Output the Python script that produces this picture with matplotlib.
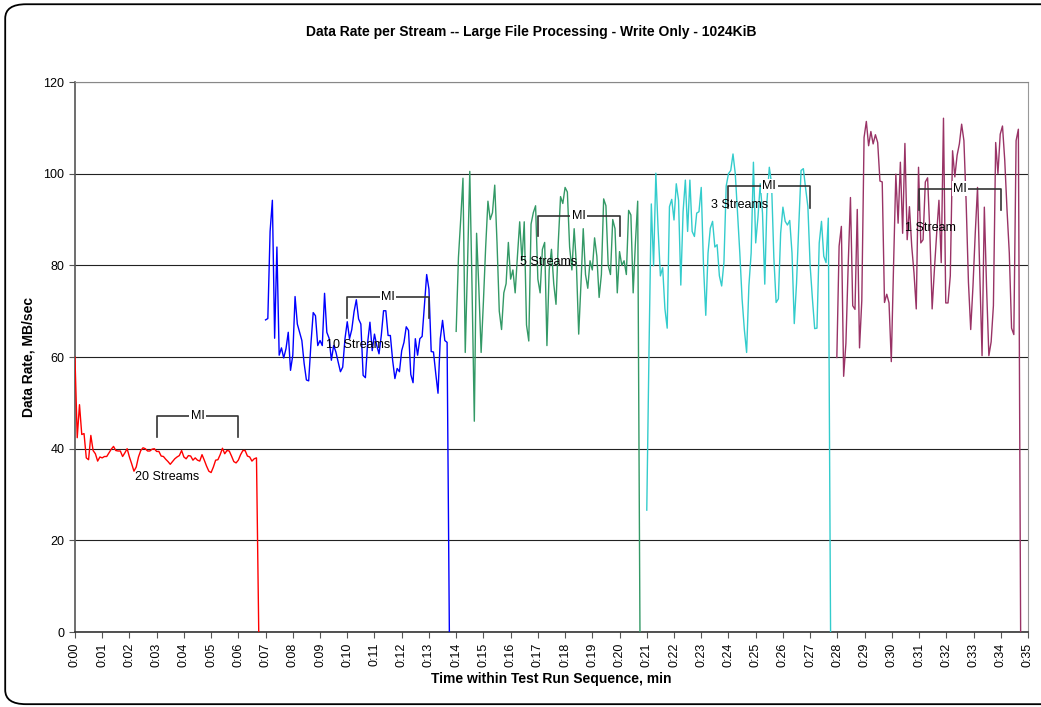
import numpy as np
import matplotlib
matplotlib.use("Agg")
import matplotlib.pyplot as plt
from matplotlib.patches import FancyBboxPatch

plt.rcParams['font.family'] = ['Liberation Sans', 'DejaVu Sans']

# samples are taken every 5 seconds (1/12 min)
STEP = 1.0 / 12

# 20 streams
red_start = 0.0
red_vals = [60.0, 42.4, 49.6, 43.1, 43.3, 38.0, 37.6, 42.9, 39.6, 38.9, 37.3, 38.2, 38.0,
            38.3, 38.3, 39.1, 39.9, 40.5, 39.6, 39.5, 39.5, 38.3, 39.1, 40.0, 38.2, 36.7, 35.1,
            36.0, 38.2, 39.6, 40.2, 40.0, 39.5, 39.5, 39.9, 40.0, 39.4, 39.4, 38.4, 38.3, 37.7,
            37.2, 36.6, 37.2, 37.8, 38.2, 38.5, 39.6, 38.2, 37.8, 38.5, 38.4, 37.5, 38.0, 37.5,
            37.3, 38.7, 37.5, 36.2, 35.1, 34.8, 36.0, 37.5, 37.6, 38.7, 40.1, 38.9, 39.6, 39.5,
            38.4, 37.2, 36.9, 37.5, 38.7, 39.6, 39.6, 38.4, 38.2, 37.3, 37.8, 38.0, 0.0]

# 10 streams
blue_start = 7.0
blue_vals = [68.1, 68.4, 87.4, 94.2, 64.1, 84.0, 60.4, 62.0, 59.8, 61.8, 65.4, 57.1, 60.4, 73.2,
             67.2, 65.4, 63.6, 58.6, 55.0, 54.8, 62.9, 69.7, 69.0, 62.5, 63.6, 62.5, 73.9, 65.4,
             64.1, 59.3, 62.5, 61.1, 58.9, 56.8, 57.8, 64.0, 67.7, 64.0, 66.0, 69.9, 72.5, 68.3,
             67.2, 56.0, 55.5, 63.2, 67.6, 61.4, 65.0, 62.5, 60.7, 64.7, 70.1, 70.1, 64.7, 64.7,
             59.3, 55.3, 57.5, 56.8, 61.4, 63.2, 66.6, 65.8, 56.2, 54.4, 64.0, 60.4, 64.0, 64.5,
             71.2, 78.0, 74.8, 61.2, 61.1, 56.4, 52.1, 64.0, 68.0, 63.6, 63.2, 0.0]

# 5 streams
green_start = 14.0
green_vals = [65.6, 81.7, 90.0, 99.0, 61.0, 80.0, 100.5, 75.0, 46.0, 87.0, 75.0, 61.0, 72.0, 84.0,
              94.0, 90.0, 91.5, 97.5, 85.0, 70.0, 66.0, 74.0, 76.0, 85.0, 77.0, 79.0, 74.0, 82.0,
              89.5, 81.0, 89.5, 67.0, 63.5, 89.0, 91.5, 93.0, 77.0, 74.0, 83.5, 85.0, 62.5, 79.0,
              83.5, 76.0, 71.5, 85.0, 95.0, 93.5, 97.0, 96.0, 84.0, 79.0, 88.0, 80.0, 65.0,
              76.0, 88.0, 78.0, 75.0, 81.0, 79.0, 86.0, 82.0, 73.0, 78.0, 94.5, 93.0, 80.0, 78.0,
              90.0, 88.0, 74.0, 83.0, 80.0, 81.0, 78.0, 92.0, 91.0, 74.0, 85.0, 94.0, 0.0]

# 3 streams
cyan_start = 21.0
cyan_vals = [26.6, 62.0, 93.4, 79.9, 100.1, 87.8, 77.7, 79.5, 70.5, 66.3, 92.8, 94.4, 89.9, 97.8,
             94.2, 75.7, 91.7, 98.6, 87.4, 98.6, 87.4, 86.3, 91.4, 91.7, 97.0, 79.9, 69.1, 82.7,
             88.1, 89.6, 84.0, 84.5, 77.7, 75.5, 80.6, 97.3, 100.0, 100.7, 104.3, 100.0, 91.4,
             82.7, 72.7, 66.0, 61.0, 75.5, 82.7, 102.5, 84.9, 90.5, 97.8, 91.4, 75.9, 94.2, 101.4,
             97.8, 81.7, 71.9, 72.7, 87.0, 92.7, 89.6, 88.8, 89.8, 82.7, 67.3, 76.1, 88.8, 100.7,
             101.1, 96.8, 92.8, 79.9, 72.7, 66.2, 66.3, 84.9, 89.6, 82.0, 80.6, 90.3, 0.0]

# 1 stream
purple_start = 27.98
purple_vals = [59.9, 84.2, 88.5, 55.8, 63.0, 80.0, 94.8, 71.2, 70.4, 92.2, 62.0, 72.3, 107.9, 111.4,
               106.1, 109.2, 106.5, 108.5, 106.8, 98.4, 98.2, 71.9, 73.7, 71.8, 59.0, 80.0, 99.9,
               89.2, 102.5, 87.0, 106.6, 85.6, 92.8, 84.2, 78.4, 70.5, 101.4, 84.9, 85.6, 98.2,
               99.1, 87.0, 70.5, 79.1, 87.0, 94.2, 80.6, 112.1, 71.8, 71.8, 77.7, 105.0, 99.3,
               104.0, 106.5, 110.8, 107.2, 93.5, 76.3, 66.0, 75.5, 87.0, 97.0, 78.0, 60.3, 92.7,
               75.0, 60.3, 63.3, 71.2, 106.8, 100.0, 108.6, 110.4, 102.9, 92.1, 82.7, 66.3, 64.9,
               107.2, 109.7, 0.0]

series_labels = ["20 Streams", "10 Streams", "5 Streams", "3 Streams", "1 Stream"]
label_x = [3.4, 10.4, 17.4, 24.4, 31.4]
label_y = [33.8, 62.6, 80.7, 93.2, 88.2]

# MI (measurement interval) brackets
mi_start = [3, 10, 17, 24, 31]
mi_end = [6, 13, 20, 27, 34]
mi_top = [47.1, 73.1, 90.8, 97.3, 96.7]
mi_bottom = [42.5, 68.5, 86.4, 92.5, 92.0]

x_ticks = list(range(0, 36))
x_tick_labels = [f"0:{m:02d}" for m in x_ticks]
y_ticks = [0, 20, 40, 60, 80, 100, 120]

fig = plt.figure(figsize=(10.41, 7.07), dpi=100)
ax = fig.add_axes([0.072, 0.106, 0.9155, 0.778])

series = [
    (red_start, red_vals, "#FF0000"),
    (blue_start, blue_vals, "#0000FF"),
    (green_start, green_vals, "#339966"),
    (cyan_start, cyan_vals, "#33CCCC"),
    (purple_start, purple_vals, "#993366"),
]
for start, vals, color in series:
    t = start + np.arange(len(vals)) * STEP
    ax.plot(t, vals, color=color, linewidth=1.0, zorder=3)

for x, y, s in zip(label_x, label_y, series_labels):
    ax.text(x, y, s, ha="center", va="center", fontsize=9, zorder=5)

for s, e, top, bot in zip(mi_start, mi_end, mi_top, mi_bottom):
    ax.plot([s, s, e, e], [bot, top, top, bot], color="#333333", linewidth=1.2, zorder=4)
    ax.text((s + e) / 2, top, "MI", ha="center", va="center", fontsize=9, zorder=6,
            bbox=dict(facecolor="white", edgecolor="none", pad=1))

ax.set_xlim(0, 35)
ax.set_ylim(0, 120)
ax.set_xticks(x_ticks)
ax.set_xticklabels(x_tick_labels, rotation=90, fontsize=9)
ax.set_yticks(y_ticks)
ax.tick_params(axis="y", labelsize=9, length=4, color="#555555")
ax.tick_params(axis="x", length=4, color="#555555")
ax.yaxis.grid(True, color="#222222", linewidth=0.8)
ax.set_axisbelow(True)

ax.spines["top"].set_color("#888888")
ax.spines["right"].set_color("#999999")
ax.spines["left"].set_color("#555555")
ax.spines["bottom"].set_color("#333333")
ax.spines["left"].set_linewidth(1.2)
ax.spines["bottom"].set_linewidth(1.2)
ax.spines["top"].set_zorder(2.5)

ax.set_xlabel("Time within Test Run Sequence, min", fontsize=10, fontweight="bold", labelpad=4)
ax.set_ylabel("Data Rate, MB/sec", fontsize=10, fontweight="bold", labelpad=6)
fig.text(0.51, 0.955, "Data Rate per Stream -- Large File Processing - Write Only - 1024KiB",
         ha="center", va="center", fontsize=10, fontweight="bold")

# rounded chart border, running off the right edge like the original crop
border = FancyBboxPatch((0.005, 0.004), 1.02, 0.99, boxstyle="round,pad=0,rounding_size=0.02",
                        transform=fig.transFigure, fill=False, edgecolor="black", linewidth=1.3)
fig.patches.append(border)

fig.savefig("out.png", dpi=100)
